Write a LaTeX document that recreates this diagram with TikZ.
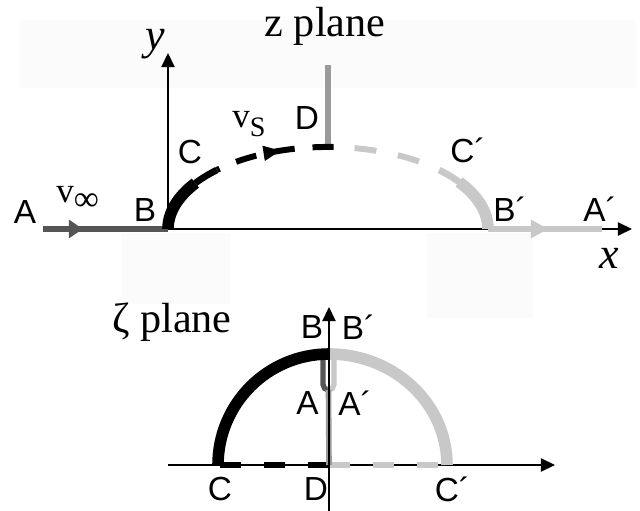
\documentclass[tikz,border=0pt]{standalone}
\usepackage{fontspec}
\setmainfont{Liberation Serif}
\setsansfont{Liberation Sans}
\usetikzlibrary{arrows.meta, positioning, decorations.markings}
\definecolor{darkflow}{HTML}{555555}
\definecolor{wallgray}{HTML}{9A9A9A}
\definecolor{mirrorgray}{HTML}{C8C8C8}
\definecolor{faintbg}{HTML}{FBFBFB}

\begin{document}
\begin{tikzpicture}[
    x=0.02cm, y=0.02cm,
    >={Triangle[length=8pt, width=7.5pt]},
    axis/.style={line width=0.9pt, ->},
    pointlabel/.style={font=\sffamily\fontsize{19}{21}\selectfont, inner sep=0pt},
    flowlabel/.style={font=\fontsize{20}{22}\selectfont, anchor=base west, inner sep=0pt},
    planelabel/.style={font=\fontsize{24}{26}\selectfont, anchor=base},
    varlabel/.style={font=\itshape\fontsize{25}{27}\selectfont, inner sep=0pt},
    boldarc/.style={line width=6.6pt},
    midarc/.style={line width=3.8pt},
    flowline/.style={line width=3.6pt},
    topdash/.style={line width=3.4pt, dash pattern=on 12pt off 10.2pt},
    bottomdash/.style={line width=3.4pt, dash pattern=on 12pt off 13pt},
    wall/.style={line width=3.2pt, wallgray},
    arrowmark/.style={postaction={decorate}, decoration={markings, mark=#1}}
]

\useasboundingbox (0,0) rectangle (640,511);

% faint patches
\fill[faintbg] (20,423) rectangle (635,491);
\fill[faintbg] (122,207) rectangle (230,278);
\fill[faintbg] (427,193) rectangle (533,278);

% z plane
\coordinate (O) at (168,282);
\coordinate (xend) at (632,282);
\coordinate (yend) at (168,458);
\coordinate (Afar) at (43,282);
\coordinate (Apfar) at (602,282);
\coordinate (Bp) at (488,282);
\coordinate (D) at (328,364);
\coordinate (Dtip) at (333.6,364);
\coordinate (walltop) at (328,446);

\draw[axis] (O) -- (xend);
\draw[axis] (O) -- (yend);
\draw[wall] (D) -- (walltop);

\draw[darkflow, flowline, arrowmark={at position 0.32 with {\arrow{Triangle[length=8pt, width=10pt]}}}] (Afar) -- (O);
\draw[mirrorgray, flowline, arrowmark={at position 0.53 with {\arrow{Triangle[length=10pt, width=10pt]}}}] (Bp) -- (Apfar);

\draw[boldarc] (O) arc[start angle=180, end angle=146, x radius=160, y radius=82] coordinate (Cbold);
\draw[midarc] (Cbold) arc[start angle=146, end angle=134, x radius=160, y radius=82] coordinate (C);
\draw[topdash, arrowmark={at position 0.44 with {\arrowreversed{Triangle[length=10pt, width=8pt]}}}] (Dtip) arc[start angle=88, end angle=134, x radius=160, y radius=82];

\draw[mirrorgray, boldarc] (Bp) arc[start angle=0, end angle=35, x radius=160, y radius=82] coordinate (Cpbold);
\draw[mirrorgray, midarc] (Cpbold) arc[start angle=35, end angle=46, x radius=160, y radius=82] coordinate (Cp);
\draw[mirrorgray, topdash, dash pattern=on 12.5pt off 12.5pt, dash phase=12.5pt] (Cp) arc[start angle=46, end angle=88, x radius=160, y radius=82];

\node[planelabel] (zplane) at (325,474) {z plane};
\node[varlabel] (ylab) at (155,467) {y};
\node[varlabel] (xlab) at (609,252.5) {x};
\node[pointlabel] (labA) at (25,299) {A};
\node[pointlabel] (labB) at (145,301) {B};
\node[pointlabel] (labC) at (190,359) {C};
\node[pointlabel] (labD) at (307,393) {D};
\node[pointlabel] (labCp) at (468,361) {C´};
\node[pointlabel] (labBp) at (510,302) {B´};
\node[pointlabel] (labAp) at (600,302) {A´};
\node[flowlabel] (vinf) at (56,308) {v\raisebox{-4pt}{∞}};
\node[flowlabel] (vs) at (232,383) {v\raisebox{-5pt}{\fontsize{16}{18}\selectfont S}};

% zeta plane
\coordinate (O2) at (329,46);
\coordinate (hstart) at (168,46);
\coordinate (hend) at (555,46);
\coordinate (vstart) at (329,0);
\coordinate (vend) at (329,204);
\coordinate (C2) at (218,46);
\coordinate (C2p) at (447,46);
\coordinate (top2) at (329,157);
\coordinate (Uleft) at (323,157);
\coordinate (Uright) at (334,157);

\draw[axis] (hstart) -- (hend);
\draw[bottomdash] (O2) -- (C2);
\draw[mirrorgray, bottomdash] (O2) -- (C2p);

\draw[darkflow, line width=3pt] (Uleft) -- ++(0,-30.5) arc[start angle=180, end angle=270, radius=5.5] coordinate (Ubottom);
\draw[mirrorgray, line width=3pt] (Ubottom) arc[start angle=270, end angle=360, radius=5.5] -- (Uright);
\draw[wall] (Ubottom) -- (O2);

\draw[boldarc] (C2) arc[start angle=180, end angle=90, radius=111];
\draw[mirrorgray, boldarc] (top2) arc[start angle=90, end angle=0, x radius=118, y radius=111];
\draw[axis] (vstart) -- (vend);

\node[planelabel] (zetaplane) at (172,178) {ζ plane};
\node[pointlabel] (labB2) at (312,183.5) {B};
\node[pointlabel, right=0.36cm of labB2] (labBp2) {B´};
\node[pointlabel] (labA2) at (307.5,107.5) {A};
\node[pointlabel, right=0.38cm of labA2] (labAp2) {A´};
\node[pointlabel] (labC2) at (220,21.5) {C};
\node[pointlabel] (labD2) at (316,21.5) {D};
\node[pointlabel] (labCp2) at (452.5,21.5) {C´};

\end{tikzpicture}
\end{document}
